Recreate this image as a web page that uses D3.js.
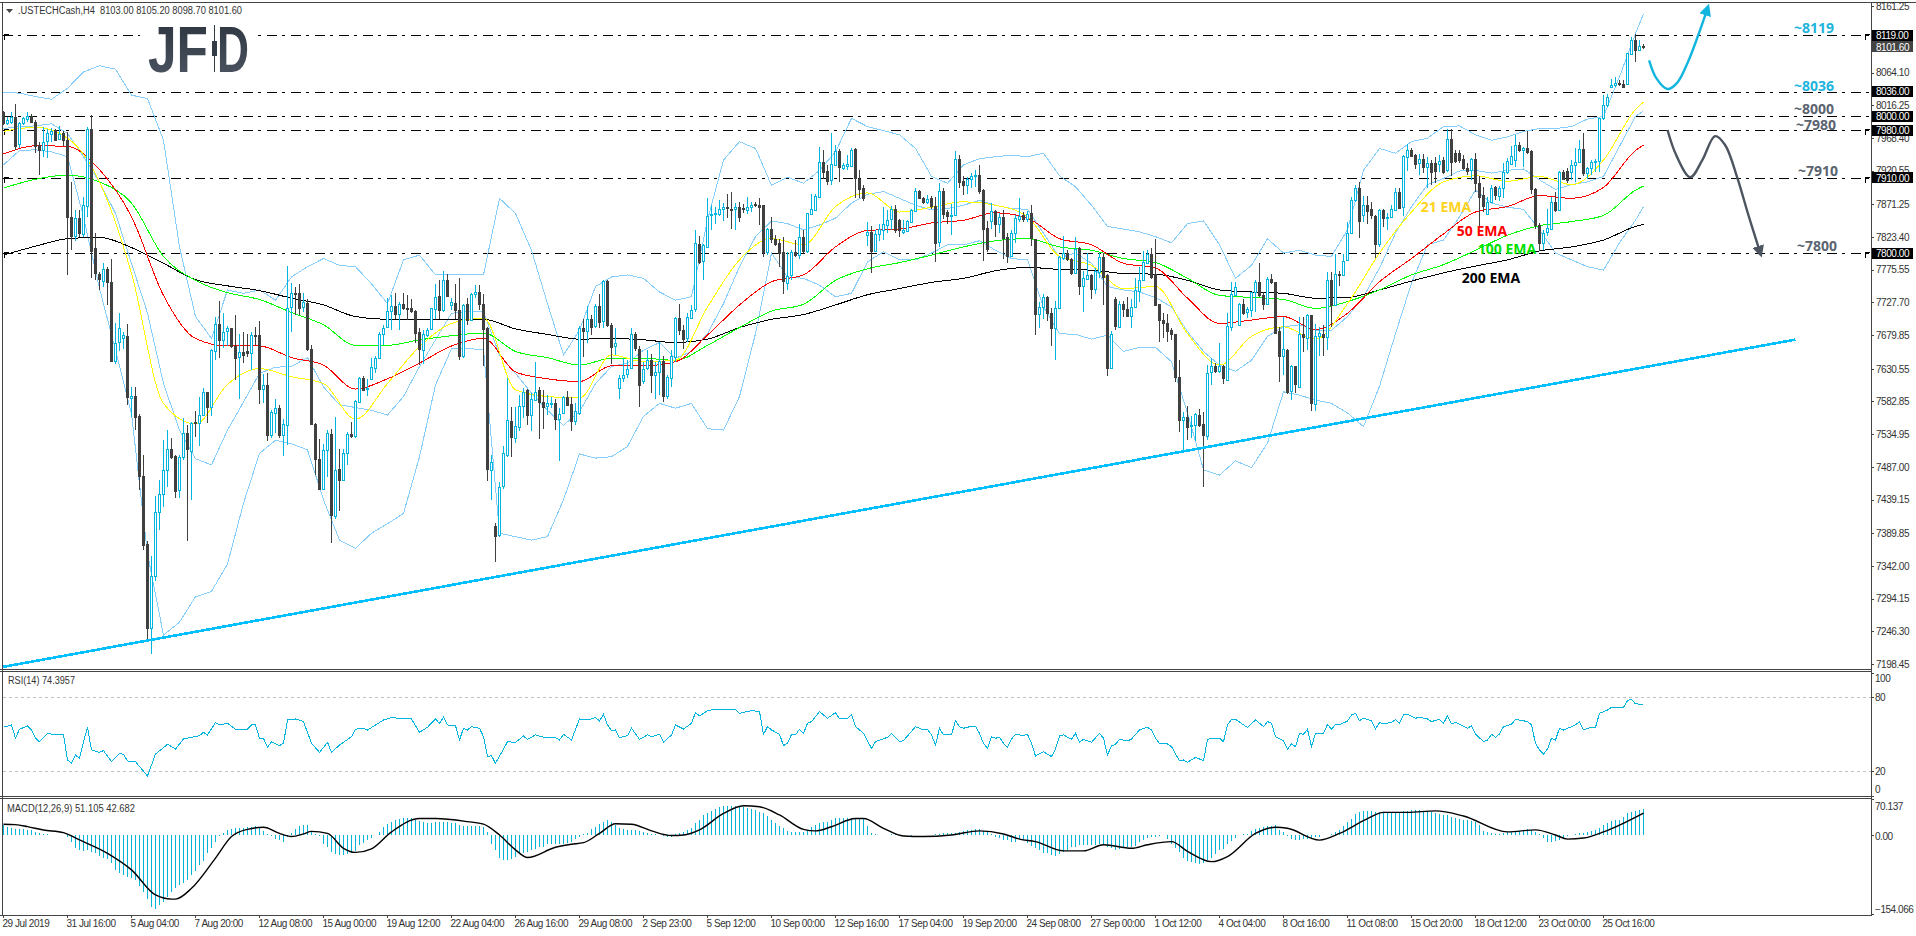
<!DOCTYPE html>
<html>
<head>
<meta charset="utf-8">
<title>.USTECHCash,H4</title>
<script src="https://cdn.jsdelivr.net/npm/d3@7"></script>
<style>
  html, body { margin: 0; padding: 0; background: #fff; }
  svg { display: block; }
  text { font-family: "Liberation Sans", sans-serif; }
  .axis text { font-size: 10px; fill: #333; letter-spacing: -0.45px; }
  .note { font-family: "Open Sans", sans-serif; font-weight: 700; font-size: 14px; text-anchor: middle; }
</style>
</head>
<body>
<div id="chart"></div>
<script>
// every candle: open, close, high, low
const candles = [
[8006,7990,8008,7988],[7990,7994,7999,7987],[7991,7999,8007,7989],[7999,7957,8018,7951],[7959,7990,7992,7953],[7989,7997,7999,7987],[7996,8001,8006,7992],[8001,7992,8004,7990],[7992,7957,7994,7946],[7958,7951,7963,7914],
[7951,7963,7985,7941],[7963,7975,7982,7939],[7973,7978,7983,7963],[7980,7965,7982,7964],[7967,7974,7986,7965],[7975,7965,7979,7956],[7966,7853,7977,7768],[7853,7825,7904,7804],[7825,7851,7863,7817],[7851,7829,7863,7824],
[7827,7870,7882,7824],[7870,7982,7984,7853],[7982,7804,8002,7763],[7807,7770,7829,7760],[7770,7763,7772,7746],[7760,7777,7785,7751],[7777,7758,7780,7724],[7758,7643,7792,7640],[7643,7669,7697,7638],[7670,7690,7713,7656],
[7675,7680,7685,7660],[7678,7589,7696,7577],[7588,7591,7604,7560],[7591,7560,7604,7541],[7561,7473,7564,7453],[7474,7373,7504,7366],[7374,7251,7378,7236],[7251,7327,7357,7214],[7327,7421,7444,7320],[7421,7448,7468,7395],
[7448,7483,7526,7429],[7483,7513,7541,7458],[7513,7502,7530,7499],[7503,7452,7505,7441],[7453,7501,7505,7442],[7501,7536,7559,7497],[7536,7512,7548,7379],[7511,7552,7553,7438],[7553,7552,7569,7531],[7552,7563,7590,7517],
[7563,7596,7602,7562],[7596,7574,7597,7551],[7574,7658,7659,7562],[7657,7696,7707,7644],[7696,7673,7730,7647],[7674,7685,7713,7661],[7686,7690,7693,7664],[7690,7663,7691,7661],[7664,7647,7710,7614],[7647,7655,7682,7586],
[7655,7650,7685,7639],[7656,7653,7682,7648],[7654,7680,7684,7629],[7680,7679,7692,7665],[7680,7601,7700,7579],[7601,7607,7623,7580],[7607,7534,7624,7525],[7534,7567,7570,7529],[7566,7573,7586,7536],[7573,7534,7577,7529],
[7534,7550,7557,7503],[7549,7720,7781,7519],[7720,7741,7756,7685],[7741,7740,7750,7709],[7741,7719,7754,7709],[7720,7728,7741,7714],[7727,7659,7733,7657],[7659,7549,7665,7548],[7550,7499,7551,7475],[7499,7455,7528,7453],
[7455,7512,7521,7453],[7511,7536,7541,7473],[7535,7417,7542,7376],[7416,7483,7560,7411],[7484,7468,7514,7423],[7467,7507,7513,7466],[7507,7535,7538,7490],[7535,7532,7553,7529],[7532,7583,7585,7529],[7582,7617,7618,7580],
[7617,7600,7620,7599],[7601,7603,7616,7591],[7615,7633,7646,7614],[7633,7647,7649,7624],[7647,7682,7684,7646],[7682,7691,7695,7665],[7691,7715,7734,7690],[7714,7722,7738,7688],[7722,7710,7741,7703],[7710,7725,7729,7688],
[7725,7719,7741,7716],[7720,7719,7738,7702],[7720,7715,7733,7712],[7715,7683,7717,7668],[7684,7659,7690,7636],[7659,7682,7687,7638],[7681,7688,7691,7677],[7688,7719,7720,7687],[7719,7736,7755,7703],[7737,7716,7760,7703],
[7717,7761,7773,7714],[7761,7737,7769,7735],[7724,7728,7734,7716],[7727,7717,7755,7703],[7717,7649,7763,7644],[7649,7724,7726,7647],[7725,7702,7734,7695],[7702,7740,7741,7702],[7740,7743,7753,7734],[7743,7726,7753,7716],
[7726,7690,7740,7634],[7690,7483,7692,7467],[7484,7495,7504,7438],[7400,7385,7405,7348],[7388,7458,7465,7385],[7458,7507,7517,7455],[7505,7556,7617,7502],[7554,7531,7575,7502],[7530,7547,7575,7522],[7546,7576,7592,7539],
[7576,7597,7602,7558],[7600,7563,7601,7548],[7563,7586,7595,7539],[7585,7597,7640,7584],[7599,7581,7604,7528],[7582,7575,7600,7543],[7576,7580,7593,7563],[7580,7581,7589,7573],[7581,7557,7587,7541],[7558,7565,7573,7496],
[7565,7589,7591,7564],[7590,7579,7598,7578],[7579,7554,7590,7540],[7554,7569,7580,7548],[7567,7691,7693,7563],[7690,7686,7704,7648],[7686,7703,7722,7668],[7704,7693,7709,7680],[7693,7722,7726,7690],[7722,7699,7740,7691],
[7700,7759,7761,7691],[7759,7695,7760,7692],[7695,7663,7698,7637],[7663,7668,7690,7651],[7602,7617,7622,7586],[7617,7622,7646,7611],[7624,7631,7643,7617],[7631,7681,7690,7630],[7681,7660,7684,7657],[7660,7607,7664,7575],
[7613,7631,7641,7609],[7631,7643,7658,7629],[7643,7621,7653,7595],[7622,7626,7640,7586],[7626,7642,7670,7592],[7642,7591,7650,7582],[7591,7619,7621,7586],[7618,7650,7658,7604],[7648,7705,7707,7641],[7705,7687,7726,7680],
[7688,7675,7695,7660],[7675,7706,7712,7670],[7705,7717,7724,7703],[7717,7814,7834,7714],[7813,7787,7825,7784],[7789,7812,7813,7760],[7809,7854,7880,7808],[7856,7857,7870,7833],[7857,7858,7867,7843],[7857,7864,7878,7854],
[7864,7867,7873,7847],[7867,7866,7887,7851],[7865,7864,7890,7835],[7864,7867,7873,7833],[7867,7853,7875,7846],[7866,7864,7872,7859],[7864,7868,7882,7857],[7868,7871,7875,7860],[7872,7870,7874,7867],[7871,7868,7881,7841],
[7870,7801,7871,7794],[7802,7835,7836,7797],[7835,7820,7852,7814],[7821,7813,7826,7810],[7814,7800,7821,7780],[7801,7758,7824,7740],[7757,7767,7802,7746],[7767,7801,7804,7760],[7801,7796,7819,7794],[7796,7823,7842,7792],
[7823,7803,7833,7800],[7802,7858,7859,7800],[7857,7864,7887,7855],[7863,7883,7887,7862],[7882,7933,7955,7881],[7933,7919,7951,7909],[7920,7906,7929,7899],[7906,7930,7976,7899],[7929,7949,7958,7928],[7949,7925,7952,7904],
[7925,7929,7932,7922],[7927,7930,7943,7921],[7928,7951,7953,7927],[7952,7909,7953,7880],[7909,7895,7922,7880],[7895,7881,7900,7876],[7827,7831,7846,7811],[7831,7803,7839,7771],[7803,7828,7833,7802],[7827,7835,7843,7817],
[7834,7843,7868,7819],[7842,7849,7863,7829],[7849,7864,7869,7834],[7864,7834,7870,7830],[7848,7833,7850,7824],[7831,7834,7848,7828],[7832,7847,7848,7831],[7846,7863,7865,7845],[7862,7891,7895,7860],[7891,7881,7892,7880],
[7881,7875,7882,7872],[7875,7879,7885,7872],[7880,7869,7883,7865],[7869,7815,7882,7787],[7816,7891,7902,7809],[7891,7858,7895,7850],[7860,7854,7863,7843],[7854,7856,7872,7826],[7855,7937,7949,7854],[7937,7904,7943,7895],
[7905,7899,7912,7885],[7899,7908,7911,7886],[7908,7913,7917,7895],[7912,7914,7922,7897],[7914,7891,7929,7887],[7892,7835,7893,7789],[7836,7806,7847,7801],[7847,7861,7873,7835],[7861,7842,7863,7824],[7843,7853,7858,7829],
[7853,7822,7863,7791],[7824,7796,7829,7786],[7797,7830,7834,7795],[7829,7851,7856,7815],[7850,7854,7880,7845],[7855,7849,7860,7846],[7849,7857,7862,7845],[7858,7821,7871,7811],[7820,7711,7821,7680],[7711,7721,7729,7691],
[7721,7735,7740,7704],[7736,7712,7737,7700],[7713,7691,7719,7664],[7691,7720,7730,7643],[7719,7794,7795,7718],[7792,7800,7825,7790],[7800,7791,7804,7789],[7792,7771,7793,7768],[7771,7806,7823,7770],[7807,7752,7809,7738],
[7751,7763,7773,7714],[7762,7768,7800,7760],[7768,7747,7770,7733],[7747,7773,7778,7740],[7772,7794,7800,7763],[7794,7765,7800,7724],[7768,7632,7769,7620],[7632,7682,7686,7631],[7733,7693,7735,7688],[7693,7726,7730,7692],
[7726,7719,7730,7706],[7718,7708,7735,7706],[7708,7721,7733,7690],[7721,7746,7763,7719],[7745,7761,7780,7729],[7760,7787,7803,7759],[7786,7799,7805,7785],[7798,7765,7807,7762],[7770,7725,7821,7724],[7725,7702,7726,7670],
[7702,7698,7713,7675],[7698,7686,7711,7670],[7687,7681,7690,7673],[7681,7618,7682,7612],[7618,7555,7644,7538],[7555,7560,7568,7512],[7560,7545,7576,7526],[7547,7549,7562,7529],[7548,7564,7566,7525],[7563,7548,7572,7546],
[7550,7534,7568,7458],[7532,7624,7636,7526],[7626,7635,7646,7607],[7635,7628,7639,7624],[7628,7635,7669,7624],[7634,7616,7636,7608],[7614,7693,7713,7613],[7692,7740,7758,7686],[7740,7751,7758,7738],[7695,7726,7727,7694],
[7726,7713,7733,7710],[7713,7718,7721,7705],[7717,7743,7743,7707],[7743,7758,7760,7714],[7758,7739,7786,7735],[7739,7726,7743,7716],[7726,7762,7765,7724],[7762,7757,7770,7755],[7758,7684,7758,7682],[7686,7650,7692,7612],
[7650,7660,7707,7621],[7658,7597,7660,7594],[7597,7634,7636,7585],[7634,7607,7635,7595],[7605,7682,7706,7604],[7681,7676,7707,7655],[7676,7709,7711,7658],[7709,7580,7710,7569],[7580,7679,7696,7569],[7678,7683,7692,7650],
[7682,7677,7695,7650],[7677,7760,7772,7658],[7760,7724,7772,7692],[7724,7770,7799,7722],[7770,7769,7774,7752],[7769,7789,7799,7768],[7790,7829,7846,7788],[7829,7877,7882,7828],[7877,7895,7899,7875],[7895,7847,7904,7822],
[7857,7871,7883,7846],[7871,7862,7883,7843],[7864,7855,7874,7850],[7854,7813,7856,7793],[7813,7863,7864,7809],[7863,7851,7864,7838],[7851,7853,7858,7834],[7853,7864,7870,7851],[7863,7890,7895,7861],[7890,7867,7895,7865],
[7867,7942,7943,7854],[7941,7951,7960,7920],[7951,7942,7954,7940],[7943,7930,7945,7923],[7931,7937,7945,7914],[7937,7926,7945,7917],[7926,7932,7941,7895],[7932,7919,7936,7900],[7931,7919,7941,7903],[7931,7935,7943,7919],
[7936,7918,7941,7915],[7921,7967,7982,7918],[7967,7934,7981,7912],[7946,7935,7951,7932],[7946,7936,7951,7931],[7937,7924,7943,7921],[7925,7921,7931,7914],[7921,7937,7939,7907],[7937,7902,7946,7890],[7903,7882,7912,7838],
[7885,7869,7897,7860],[7858,7875,7882,7855],[7875,7895,7900,7873],[7896,7884,7898,7878],[7883,7895,7898,7876],[7895,7918,7931,7880],[7918,7934,7939,7916],[7931,7942,7956,7929],[7936,7958,7973,7926],[7958,7950,7963,7948],
[7950,7953,7955,7926],[7953,7947,7979,7945],[7949,7893,7951,7887],[7894,7841,7895,7835],[7841,7815,7844,7803],[7815,7830,7833,7805],[7830,7836,7864,7825],[7836,7875,7882,7833],[7875,7863,7890,7860],[7863,7918,7920,7861],
[7919,7909,7921,7907],[7920,7907,7924,7902],[7919,7929,7936,7907],[7928,7933,7953,7904],[7933,7952,7965,7931],[7952,7917,7975,7913],[7918,7925,7926,7909],[7924,7933,7936,7914],[7933,7935,7937,7919],[7934,7997,7997,7919],
[7997,8016,8031,7995],[8016,8028,8033,8013],[8043,8046,8055,8041],[8046,8049,8057,8043],[8049,8048,8053,8044],[8048,8044,8053,8041],[8047,8092,8093,8046],[8091,8112,8116,8090],[8112,8097,8120,8079],[8097,8103,8112,8095],
[8103,8101.6,8105.2,8098.7]
];

// moving averages, read every 8th bar plus the last one
const emaBars = d3.range(0, 409, 8).concat(410);
const ema21 = [7978,7984,7968,7904,7770,7580,7550,7608,7631,7619,7609,7557,7609,7663,7697,7705,7600,7590,7588,7651,7641,7643,7721,7790,7821,7812,7868,7888,7860,7867,7875,7870,7853,7795,7782,7748,7751,7682,7636,7678,7692,7674,7726,7800,7860,7904,7913,7905,7912,7900,7936,8010,8021];
const ema50 = [7945,7957,7956,7922,7853,7738,7675,7664,7664,7647,7636,7601,7616,7639,7664,7675,7626,7616,7612,7635,7635,7641,7680,7724,7758,7768,7809,7833,7835,7844,7848,7859,7851,7821,7812,7785,7778,7734,7697,7702,7707,7688,7712,7758,7792,7828,7860,7868,7884,7880,7896,7950,7958];
const ema100 = [7895,7908,7914,7904,7873,7795,7760,7742,7732,7713,7695,7665,7665,7673,7679,7683,7656,7647,7636,7646,7646,7643,7665,7691,7715,7725,7760,7777,7786,7797,7809,7818,7821,7809,7804,7792,7786,7763,7738,7735,7732,7719,7729,7746,7768,7783,7804,7826,7840,7846,7855,7892,7898];
const ema200 = [7797,7810,7821,7823,7808,7785,7761,7752,7745,7734,7724,7707,7703,7703,7703,7703,7689,7681,7674,7675,7673,7669,7674,7691,7703,7710,7724,7739,7748,7757,7763,7774,7779,7776,7775,7770,7769,7760,7746,7743,7741,7734,7735,7746,7759,7771,7781,7790,7803,7809,7819,7839,7842];

// bollinger bands, read every 4th bar plus the last one
const bandBars = d3.range(0, 409, 4).concat(410);
const bandUpper = [8035,8034,8029,8025,8041,8065,8074,8069,8031,8026,7965,7809,7707,7675,7746,7741,7746,7731,7765,7780,7792,7782,7780,7755,7726,7790,7797,7768,7768,7768,7768,7880,7858,7804,7726,7651,7687,7751,7765,7768,7763,7743,7731,7736,7848,7936,7963,7953,7899,7911,7902,7921,7948,7997,7985,7979,7973,7953,7912,7902,7929,7938,7941,7943,7941,7946,7913,7897,7870,7839,7835,7831,7824,7815,7843,7847,7812,7763,7782,7821,7800,7804,7797,7795,7834,7921,7953,7946,7963,7968,7985,7986,7973,7965,7970,7978,7982,7982,7985,7996,8000,8058,8121,8150];
const bandMiddle = [7982,7985,7986,7989,7975,7941,7904,7858,7785,7712,7609,7541,7499,7490,7541,7582,7624,7633,7634,7647,7604,7578,7574,7570,7563,7590,7634,7673,7712,7714,7714,7651,7624,7595,7570,7548,7568,7609,7634,7639,7658,7669,7646,7656,7682,7726,7780,7824,7847,7843,7834,7841,7851,7873,7886,7890,7880,7870,7863,7865,7870,7877,7870,7865,7864,7829,7793,7800,7785,7751,7746,7743,7735,7721,7685,7656,7636,7627,7643,7678,7692,7695,7687,7687,7707,7736,7778,7829,7868,7900,7909,7920,7921,7917,7921,7923,7907,7893,7900,7904,7912,7956,8000,8008];
const bandLower = [7929,7950,7951,7948,7941,7853,7748,7658,7565,7360,7241,7260,7297,7305,7345,7434,7507,7526,7521,7512,7439,7380,7368,7390,7404,7419,7502,7607,7660,7660,7659,7390,7385,7380,7385,7439,7506,7500,7502,7517,7561,7580,7573,7580,7543,7541,7590,7682,7800,7765,7763,7753,7736,7741,7787,7802,7790,7790,7800,7812,7812,7818,7804,7792,7790,7721,7682,7681,7674,7680,7656,7662,7662,7641,7566,7483,7475,7496,7486,7522,7597,7592,7585,7580,7566,7546,7605,7682,7756,7812,7819,7853,7892,7873,7867,7864,7834,7800,7790,7780,7775,7815,7848,7868];

const priceTicks = [8161.25,8113.40,8064.10,8016.25,7968.40,7920.55,7871.25,7823.40,7775.55,7727.70,7679.85,7630.55,7582.85,7534.95,7487.00,7439.15,7389.85,7342.00,7294.15,7246.30,7198.45];
const levels = [8119,8036,8000,7980,7910,7800];
const cornerLevels = [8119,7980,7910,7800];
const timeLabels = ["29 Jul 2019","31 Jul 16:00","5 Aug 04:00","7 Aug 20:00","12 Aug 08:00","15 Aug 00:00","19 Aug 12:00","22 Aug 04:00","26 Aug 16:00","29 Aug 08:00","2 Sep 23:00","5 Sep 12:00","10 Sep 00:00","12 Sep 16:00","17 Sep 04:00","19 Sep 20:00","24 Sep 08:00","27 Sep 00:00","1 Oct 12:00","4 Oct 04:00","8 Oct 16:00","11 Oct 08:00","15 Oct 20:00","18 Oct 12:00","23 Oct 00:00","25 Oct 16:00"];

// trend line and the two drawn scenarios: [bar, price]
const trendLine = [[-0.2,7194.4],[448,7673.4]];
const scenarioUp = [[411.4,8082],[413.2,8056],[416,8040],[418.4,8049],[421,8078],[423.7,8119],[426,8158]];
const scenarioDown = [[416,7980],[418.2,7943],[421.7,7911],[424.7,7936],[427.9,7971],[430.4,7958],[433.4,7911],[436.2,7856],[439.2,7800]];

// RSI vertices: [bar, value]
const rsiPoints = [[0,55.7],[2,57.6],[3,46.8],[4,54.1],[6,56.8],[7,53.5],[8,46.8],[9,44],[11,50.8],[13,49.5],[15,49.5],[16,29.2],[17,26.5],[18,33.2],[19,30.5],[20,44],[21,55.7],[22,37.3],[24,35.4],[25,36.8],[27,27.8],[29,34.6],[30,33.8],[31,28.4],[33,27.8],[36,16.2],[38,34],[41,41.9],[43,38.1],[45,46.2],[47,47.6],[49,48.9],[50,51.6],[51,49.5],[53,59.5],[54,57.6],[56,58.9],[58,54.1],[61,54.1],[62,57.6],[63,57.6],[64,46.8],[65,46.8],[66,39.5],[67,44],[69,40.8],[70,42.7],[71,61.6],[73,62.4],[75,60.3],[77,42.7],[79,35.4],[81,43.5],[82,35.4],[84,41.3],[87,48.1],[88,54.1],[90,54.9],[91,53.5],[95,61.6],[97,63.5],[99,63],[102,62.4],[104,51.6],[106,55.7],[108,62.4],[109,58.9],[110,63.8],[111,57.6],[113,57],[114,45.4],[115,54.9],[116,53.5],[117,56.2],[119,54.9],[120,48.1],[121,31.9],[122,32.7],[123,26.5],[125,38.1],[126,44],[128,43.5],[130,48.6],[131,45.9],[133,49.5],[135,47.6],[138,47.3],[139,45.4],[140,50],[142,45.4],[144,62.4],[146,61.6],[148,63.5],[149,60.8],[150,66.2],[151,57.6],[152,53],[153,53.5],[154,47.3],[156,48.9],[157,54.9],[159,45.9],[161,49.5],[162,48.1],[164,50],[165,43.5],[167,49.5],[168,57.6],[170,54.3],
[172,58.9],[173,67.6],[174,64.9],[176,69.2],[178,70.3],[183,70.3],[184,67],[187,69.2],[189,68.4],[190,50],[191,56.2],[192,53.5],[194,50],[195,40.8],[196,42.7],[197,50],[198,49.5],[199,54.1],[200,50.8],[201,58.9],[202,60.3],[204,68.4],[206,63],[208,67.6],[209,62.4],[211,63],[212,66.2],[213,56.2],[215,50.8],[217,38.6],[218,44],[221,47.6],[222,50.8],[224,44],[225,44.9],[228,56.2],[230,53.5],[231,54.1],[232,49.5],[233,41.3],[234,54.9],[235,49.5],[237,49.5],[238,61.1],[239,56.2],[240,54.9],[242,56.5],[243,56.5],[244,50.8],[245,42.7],[246,38.6],[247,48.1],[248,46.8],[249,47.6],[250,42.7],[251,39.5],[252,46.2],[253,50],[255,48.9],[256,50],[257,42.7],[258,32.4],[260,35.9],[262,31.9],[263,38.1],[264,48.6],[265,49.5],[267,45.9],[268,50.8],[269,43.5],[270,45.9],[272,43.5],[274,50.8],[275,46.8],[276,33.2],[277,40.5],[278,41.9],[279,45.9],[281,44.6],[282,46.2],[284,53.5],[286,55.7],[287,53.5],[288,46.8],[289,42.7],[291,42.2],[292,40],[294,28.4],[295,29.2],[296,27.3],[298,31.3],[300,28.6],[301,45.9],[302,46.8],[304,46.8],[305,44],[306,57.6],[307,62.2],[308,62.2],[310,57.6],[311,55.7],[313,61.6],[315,56.2],[316,60.3],[317,58.9],[318,48.1],[320,44.9],[321,37.8],[322,42.2],[323,40],[324,50.8],[325,50],[326,54.1],[327,40],[328,50.8],[330,50.8],[331,58.1],[332,54.1],[333,58.1],[334,57.6],[336,60.8],[337,65.7],[338,67],[339,61.1],[340,63],[342,60.8],[343,54.3],
[344,59.5],[345,58.4],[347,59.7],[348,61.9],[349,58.9],[350,65.7],[351,66.2],[353,63],[354,63.8],[356,62.4],[357,60.3],[359,62.2],[360,58.9],[361,65.1],[362,58.4],[363,59.7],[366,54.9],[367,57],[368,50.3],[370,44],[371,45.4],[372,50],[373,47.6],[374,50.3],[375,56.2],[377,58.1],[378,62.2],[381,60.3],[382,57.6],[383,42.7],[384,37.3],[385,33.8],[386,38.1],[387,46.8],[388,45.4],[389,54.9],[390,53.5],[392,56.2],[393,57.6],[394,60.3],[395,53.5],[397,55.7],[398,55.7],[399,67],[401,69.7],[402,71.9],[405,71.9],[406,77.3],[407,78.4],[408,74.6],[410,74.4]
];

// MACD histogram, one value per bar
const macdHist = [
19,16,13,12,11,11,10,10,6,4,2,1,0.5,0.5,0,0,-3,-14,-26,-30,-31,-30,-33,-36,-41,-45,-46,-55,-68,-74,-78,-81,-84,-88,-100,-112,-125,-140,-144,-137,
-130,-120,-112,-104,-97,-94,-87,-78,-70,-58,-50,-36,-26,-13,-2,3,9,12,14,14,14,15,15,17,14,8,2,-2,-7,-10,-14,-4,4,12,17,20,20,8,2,-2,
-18,-24,-34,-37,-39,-40,-38,-35,-31,-20,-15,-10,-5,0,6,15,22,26,29,31,34,34,34,29,28,25,24,24,25,25,25,25,24,24,20,18,17,17,17,17,
16,5,-18,-30,-45,-49,-48,-46,-43,-38,-36,-33,-30,-28,-24,-23,-18,-18,-18,-18,-17,-16,-13,-8,-4,2,4,11,15,22,25,29,25,20,14,11,10,10,10,8,
5,3,2,1,0,-2,-3,-3,1,3,6,9,13,23,29,38,43,47,51,54,56,57,57,57,55,54,52,50,48,45,42,37,29,24,18,13,7,5,5,5,
5,9,16,20,24,25,25,29,33,33,33,33,33,33,33,32,18,3,1,0,0.5,0.5,1,1,0,0,-1,-3,-1,0,0,0,0,1,2,3,3,3,4,6,
8,9,10,11,11,8,7,2,-3,-6,-9,-10,-13,-14,-8,-10,-16,-21,-26,-29,-35,-36,-40,-41,-37,-33,-30,-24,-23,-20,-19,-19,-19,-19,-18,-18,-23,-26,-29,-27,
-26,-24,-23,-21,-14,-9,-6,-4,-3,-2,-1,-7,-18,-26,-34,-45,-51,-52,-55,-56,-55,-48,-45,-38,-30,-27,-18,-12,-5,0,1,2,7,11,13,15,17,18,19,10,
5,-2,-7,-10,-10,-8,-7,-5,-4,-3,-1,0,2,6,10,17,25,32,41,44,47,47,47,45,44,44,43,43,42,44,46,47,49,49,48,47,46,45,43,41,
39,38,36,34,32,30,29,27,25,20,8,5,3,2,2,3,5,6,7,8,9,11,9,5,2,-5,-13,-13,-12,-9,-5,-2,0,2,3,3,6,7,10,13,
20,23,27,29,30,35,42,44,46,48,51.1
];

// MACD signal line vertices: [bar, value]
const macdSignal = [[0,20.8],[3,20.1],[6,16.2],[10,9.7],[15,4.5],[19,-9.7],[26,-35.7],[32,-68],[38,-117],[42,-125],[43,-125],[47,-104],[53,-45],[57,-3],[61,11],[65,15],[69,3],[72,-3],[75,2],[77,7],[81,3],[85,-26],[88,-34],[92,-27],[97,6],[104,32],[108,32],[116,26],[120,21],[124,0],[128,-29],[131,-44],[138,-24],[142,-18],[145,-15],[149,3],[153,22],[157,21],[162,8],[167,-1],[170,0],[174,10],[180,42],[185,57],[189,55],[194,39],[200,11],[203,8],[207,16],[213,32],[215,32],[220,13],[225,-2],[230,-3],[237,0],[244,8],[250,2],[254,-8],[258,-13],[265,-31],[270,-31],[275,-19],[282,-26],[286,-19],[292,-13],[296,-32],[302,-52],[306,-42],[313,3],[318,15],[321,13],[329,-10],[334,3],[341,32],[345,44],[351,44],[358,47],[365,37],[376,6],[383,10],[388,0],[391,-8],[395,-6],[400,6],[410,42.7]];

const WIDTH = 1916;
const HEIGHT = 936;
const AXIS_X = 1871;
const FRAME = "#444";
const CYAN = "#00b4e0";

const svg = d3.select("#chart").append("svg").attr("width", WIDTH).attr("height", HEIGHT);

const xBar = d3.scaleLinear().domain([0, 410]).range([3, 1643]);
const yPrice = d3.scaleLinear().domain([8119, 7198.45]).range([35, 664.2]);
const yRsi = d3.scaleLinear().domain([100, 0]).range([672.6, 796]);
const yMacd = d3.scaleLinear().domain([70.137, -154.066]).range([799, 914]);

// levels
const levelG = svg.append("g").attr("shape-rendering", "crispEdges");
levelG.selectAll("line").data(levels).enter().append("line")
  .attr("x1", 3).attr("x2", AXIS_X)
  .attr("y1", d => Math.round(yPrice(d)) + 0.5).attr("y2", d => Math.round(yPrice(d)) + 0.5)
  .attr("stroke", "#000").attr("stroke-dasharray", "10,5,3,6");
[4, AXIS_X - 6].forEach(x0 => {
  levelG.selectAll(null).data(cornerLevels).enter().append("path")
    .attr("d", d => { const y = Math.round(yPrice(d)) + 0.5; return `M${x0 + 0.5},${y + 4}V${y - 1}H${x0 + 5}`; })
    .attr("fill", "none").attr("stroke", "#000");
});

// logo sits on white over the level line
const defs = svg.append("defs");
const logoGrad = defs.append("linearGradient").attr("id", "logoGrad").attr("x1", 0).attr("y1", 0).attr("x2", 0).attr("y2", 1);
logoGrad.append("stop").attr("offset", 0).attr("stop-color", "#2a323d");
logoGrad.append("stop").attr("offset", 1).attr("stop-color", "#4e5763");
svg.append("rect").attr("x", 140).attr("y", 24).attr("width", 117).attr("height", 48).attr("fill", "#fff");
[["JF", 148, 60], ["D", 217, 32]].forEach(([word, x, w]) => {
  svg.append("text").attr("x", x).attr("y", 71.5).attr("textLength", w).attr("lengthAdjust", "spacingAndGlyphs")
    .attr("font-size", 65).attr("font-weight", 700).attr("fill", "url(#logoGrad)").text(word);
});
svg.append("line").attr("x1", 214.5).attr("x2", 214.5).attr("y1", 25).attr("y2", 72).attr("stroke", "#333b46");
svg.append("rect").attr("x", 212).attr("y", 41).attr("width", 5).attr("height", 15).attr("fill", "#333b46");

// indicators go under the candles
const priceLine = d3.line().x(d => xBar(d[0]) + 0.5).y(d => yPrice(d[1]));
const lineG = svg.append("g").attr("fill", "none").attr("shape-rendering", "crispEdges");
[bandUpper, bandMiddle, bandLower].forEach(vals => {
  lineG.append("path").attr("d", priceLine.curve(d3.curveLinear)(d3.zip(bandBars, vals))).attr("stroke", "#87cefa");
});
[[ema200, "#000"], [ema100, "#00ff00"], [ema50, "#ff0000"], [ema21, "#ffff00"]].forEach(([vals, color]) => {
  lineG.append("path").attr("d", priceLine.curve(d3.curveMonotoneX)(d3.zip(emaBars, vals))).attr("stroke", color);
});

// candles
const candleG = svg.append("g").attr("shape-rendering", "crispEdges");
const bars = candleG.selectAll("g").data(candles).enter().append("g");
bars.append("line")
  .attr("x1", (d, i) => xBar(i) + 0.5).attr("x2", (d, i) => xBar(i) + 0.5)
  .attr("y1", d => Math.round(yPrice(d[2]))).attr("y2", d => Math.round(yPrice(d[3])))
  .attr("stroke", d => d[1] >= d[0] ? CYAN : "#404040");
bars.append("rect")
  .attr("x", (d, i) => xBar(i) - 0.5).attr("width", 2)
  .attr("y", d => Math.round(yPrice(Math.max(d[0], d[1]))) + 0.5)
  .attr("height", d => Math.max(1, Math.round(Math.abs(yPrice(d[0]) - yPrice(d[1])))))
  .attr("fill", d => d[1] >= d[0] ? "#fff" : "#404040")
  .attr("stroke", d => d[1] >= d[0] ? CYAN : "#404040");

// trend line
svg.append("path").attr("d", priceLine.curve(d3.curveLinear)(trendLine))
  .attr("fill", "none").attr("stroke", "#00bfff").attr("stroke-width", 2.6).attr("shape-rendering", "crispEdges");

// scenario arrows
[["arrowUp", "#12b5de", scenarioUp], ["arrowDown", "#4d5561", scenarioDown]].forEach(([id, color, pts]) => {
  defs.append("marker").attr("id", id).attr("viewBox", "0 0 10 10").attr("refX", 6).attr("refY", 5)
    .attr("markerWidth", 5).attr("markerHeight", 5).attr("orient", "auto")
    .append("path").attr("d", "M0,0L10,5L0,10Z").attr("fill", color);
  svg.append("path").attr("d", priceLine.curve(d3.curveCatmullRom)(pts))
    .attr("fill", "none").attr("stroke", color).attr("stroke-width", 2.4)
    .attr("marker-end", `url(#${id})`);
});

// hand written notes
const notes = [
  ["~8119", 1814, 33, "#1eb4dc"], ["~8036", 1814, 91, "#1eb4dc"], ["~8000", 1814, 114, "#5b6470"],
  ["~7980", 1816, 130, "#5b6470"], ["~7910", 1818, 176, "#5b6470"], ["~7800", 1817, 251, "#5b6470"],
  ["21 EMA", 1446, 212, "#ffd21e"], ["50 EMA", 1482, 236, "#ff0000"], ["100 EMA", 1507, 254, "#00e000"], ["200 EMA", 1491, 283, "#000"]
];
svg.selectAll(".note").data(notes).enter().append("text").attr("class", "note")
  .attr("x", d => d[1]).attr("y", d => d[2]).attr("fill", d => d[3]).text(d => d[0]);

// RSI panel
svg.selectAll(".rsiLevel").data([80, 20]).enter().append("line").attr("class", "rsiLevel")
  .attr("x1", 3).attr("x2", AXIS_X)
  .attr("y1", d => Math.round(yRsi(d)) + 0.5).attr("y2", d => Math.round(yRsi(d)) + 0.5)
  .attr("stroke", "#c0c0c0").attr("stroke-dasharray", "3,3").attr("shape-rendering", "crispEdges");
svg.append("path")
  .attr("d", d3.line().x(d => xBar(d[0]) + 0.5).y(d => yRsi(d[1]))(rsiPoints))
  .attr("fill", "none").attr("stroke", CYAN).attr("shape-rendering", "crispEdges");

// MACD panel
svg.append("g").attr("shape-rendering", "crispEdges").selectAll("line").data(macdHist).enter().append("line")
  .attr("x1", (d, i) => xBar(i) + 0.5).attr("x2", (d, i) => xBar(i) + 0.5)
  .attr("y1", yMacd(0)).attr("y2", d => yMacd(d))
  .attr("stroke", "#00b4d8");
svg.append("path")
  .attr("d", d3.line().curve(d3.curveMonotoneX).x(d => xBar(d[0]) + 0.5).y(d => yMacd(d[1]))(macdSignal))
  .attr("fill", "none").attr("stroke", "#000").attr("stroke-width", 1.4);

// frame
const frameLines = [[0, 2.5, WIDTH, 2.5], [0, 669.5, AXIS_X, 669.5], [0, 671.5, AXIS_X, 671.5], [0, 796.5, AXIS_X, 796.5], [0, 798.5, AXIS_X, 798.5], [0, 915.5, AXIS_X, 915.5], [2.5, 2, 2.5, 916], [AXIS_X + 0.5, 2, AXIS_X + 0.5, 916]];
svg.append("g").attr("shape-rendering", "crispEdges").selectAll("line").data(frameLines).enter().append("line")
  .attr("x1", d => d[0]).attr("y1", d => d[1]).attr("x2", d => d[2]).attr("y2", d => d[3])
  .attr("stroke", FRAME);

// axes
function styleAxis(g) {
  g.attr("class", "axis").attr("font-family", null).attr("font-size", null);
  g.select(".domain").remove();
  g.selectAll("line").attr("stroke", FRAME).attr("shape-rendering", "crispEdges");
}
svg.append("g").attr("transform", `translate(${AXIS_X},0)`)
  .call(d3.axisRight(yPrice).tickValues(priceTicks).tickFormat(d3.format(".2f")).tickSize(3).tickPadding(2))
  .call(styleAxis);

const rsiLabelY = { 100: 678, 80: 697, 20: 771, 0: 789 };
svg.append("g").attr("transform", `translate(${AXIS_X},0)`)
  .call(d3.axisRight(yRsi).tickValues([100, 80, 20, 0]).tickSize(3).tickPadding(1))
  .call(styleAxis)
  .call(g => g.selectAll(".tick text").attr("y", d => rsiLabelY[d] - yRsi(d)));

const macdLabelY = { "70.137": 806, "0": 836, "-154.066": 909 };
svg.append("g").attr("transform", `translate(${AXIS_X},0)`)
  .call(d3.axisRight(yMacd).tickValues([70.137, 0, -154.066]).tickSize(3).tickPadding(1)
    .tickFormat(d => d === 0 ? "0.00" : d3.format(".3f")(d)))
  .call(styleAxis)
  .call(g => g.selectAll(".tick text").attr("y", d => macdLabelY[d] - yMacd(d)));

svg.append("g").attr("transform", "translate(0,915)")
  .call(d3.axisBottom(xBar).tickValues(d3.range(0, 401, 16)).tickFormat(i => timeLabels[i / 16]).tickSize(3).tickPadding(2))
  .call(styleAxis)
  .call(g => g.selectAll(".tick text").attr("text-anchor", "start").attr("x", -1).attr("dy", "0.65em"));

// level boxes on the price axis
const boxes = levels.map(d => [d, "#000"]).concat([[8101.6, "#444"]]);
const boxG = svg.selectAll(".box").data(boxes).enter().append("g").attr("class", "box axis")
  .attr("transform", d => `translate(1872,${yPrice(d[0])})`);
boxG.append("rect").attr("y", -5.5).attr("width", 41).attr("height", 11).attr("fill", d => d[1]).attr("shape-rendering", "crispEdges");
boxG.append("text").attr("x", 4).attr("y", 3.7).style("fill", "#fff").text(d => d3.format(".2f")(d[0]));

// panel captions
svg.append("path").attr("d", "M6,9H13L9.5,13Z").attr("fill", "#444");
const captions = [
  [".USTECHCash,H4  8103.00 8105.20 8098.70 8101.60", 18, 14, 224],
  ["RSI(14) 74.3957", 8, 684, 67],
  ["MACD(12,26,9) 51.105 42.682", 7, 812, 128]
];
svg.selectAll(".caption").data(captions).enter().append("text").attr("class", "caption")
  .attr("x", d => d[1]).attr("y", d => d[2]).attr("textLength", d => d[3]).attr("lengthAdjust", "spacingAndGlyphs")
  .attr("font-size", 10).attr("fill", "#333").attr("xml:space", "preserve").text(d => d[0]);
</script>
</body>
</html>
